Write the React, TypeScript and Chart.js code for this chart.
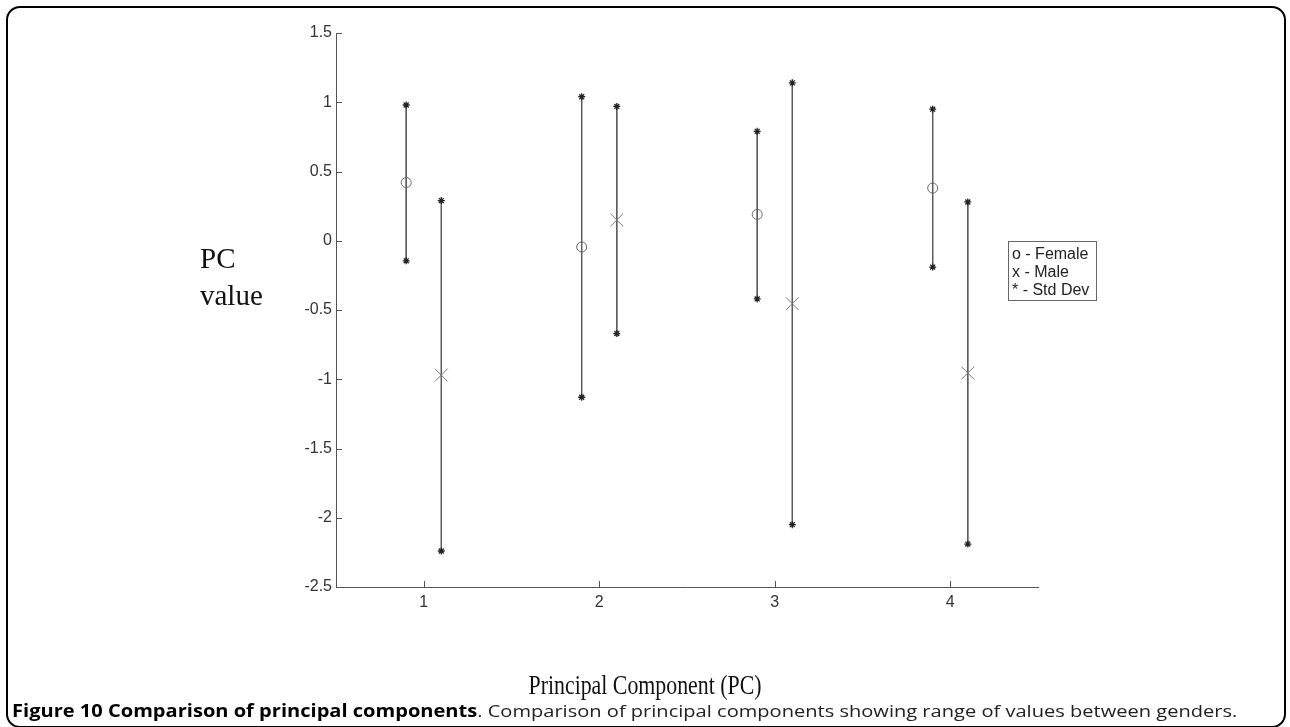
import React, { useEffect, useRef } from "react";
import { Chart, registerables } from "chart.js";

Chart.register(...registerables);

const components = [1, 2, 3, 4];
const xTickValues = [1, 2, 3, 4];
const yTickValues = [1.5, 1, 0.5, 0, -0.5, -1, -1.5, -2, -2.5];

const femaleMean = [0.42, -0.045, 0.19, 0.38];
const femaleUpper = [0.98, 1.04, 0.79, 0.95];
const femaleLower = [-0.145, -1.13, -0.42, -0.19];

const maleMean = [-0.97, 0.15, -0.455, -0.955];
const maleUpper = [0.29, 0.97, 1.14, 0.28];
const maleLower = [-2.24, -0.67, -2.05, -2.19];

const legendLines = ["o - Female", "x - Male", "* - Std Dev"];
const yTitleLines = ["PC", "value"];
const xTitle = "Principal Component (PC)";
const captionBold = "Figure 10 Comparison of principal components";
const captionRest = ". Comparison of principal components showing range of values between genders.";

const FEMALE_OFFSET = -0.1;
const MALE_OFFSET = 0.1;

const titlePlugin = {
  id: "titles",
  afterDraw(chart: any) {
    const ctx = chart.ctx;
    const x = chart.scales.x;
    const y = chart.scales.y;
    ctx.save();
    // inward ticks (MATLAB style)
    ctx.strokeStyle = "#555";
    ctx.lineWidth = 1;
    ctx.beginPath();
    xTickValues.forEach((v) => {
      const px = Math.round(x.getPixelForValue(v)) + 0.5;
      ctx.moveTo(px, y.bottom);
      ctx.lineTo(px, y.bottom - 6);
    });
    yTickValues.forEach((v) => {
      const py = Math.round(y.getPixelForValue(v)) + 0.5;
      ctx.moveTo(x.left, py);
      ctx.lineTo(x.left + 6, py);
    });
    ctx.stroke();
    // axis titles
    ctx.fillStyle = "#111";
    ctx.font = '29px "Liberation Serif", "Times New Roman", serif';
    ctx.textAlign = "left";
    ctx.textBaseline = "alphabetic";
    ctx.fillText(yTitleLines[0], 200, 268);
    ctx.fillText(yTitleLines[1], 200, 305);
    ctx.translate((x.left + x.right) / 2 - 42, 694);
    ctx.scale(0.78, 1);
    ctx.font = '28px "Liberation Serif", "Times New Roman", serif';
    ctx.textAlign = "center";
    ctx.fillText(xTitle, 0, 0);
    ctx.restore();
  },
};

export default function App() {
  const canvasRef = useRef<HTMLCanvasElement | null>(null);

  useEffect(() => {
    const canvas = canvasRef.current;
    if (!canvas) return;

    const barDatasets: any[] = [];
    components.forEach((c, i) => {
      barDatasets.push({
        type: "scatter",
        data: [
          { x: c + FEMALE_OFFSET, y: femaleUpper[i] },
          { x: c + FEMALE_OFFSET, y: femaleLower[i] },
        ],
        showLine: true,
        borderColor: "#5a5a5a",
        borderWidth: 1,
        pointStyle: "star",
        pointRadius: 3.5,
        pointBorderWidth: 1.3,
        pointBorderColor: "#222",
        pointBackgroundColor: "#222",
        order: 2,
      });
      barDatasets.push({
        type: "scatter",
        data: [
          { x: c + MALE_OFFSET, y: maleUpper[i] },
          { x: c + MALE_OFFSET, y: maleLower[i] },
        ],
        showLine: true,
        borderColor: "#5a5a5a",
        borderWidth: 1,
        pointStyle: "star",
        pointRadius: 3.5,
        pointBorderWidth: 1.3,
        pointBorderColor: "#222",
        pointBackgroundColor: "#222",
        order: 2,
      });
    });

    const chart = new Chart(canvas, {
      type: "scatter",
      data: {
        datasets: [
          {
            label: "Female",
            data: components.map((c, i) => ({ x: c + FEMALE_OFFSET, y: femaleMean[i] })),
            pointStyle: "circle",
            pointRadius: 5,
            pointBorderWidth: 1,
            pointBorderColor: "#666",
            pointBackgroundColor: "rgba(0,0,0,0)",
            order: 1,
          },
          {
            label: "Male",
            data: components.map((c, i) => ({ x: c + MALE_OFFSET, y: maleMean[i] })),
            pointStyle: "crossRot",
            pointRadius: 9,
            pointBorderWidth: 1,
            pointBorderColor: "#777",
            order: 1,
          },
          ...barDatasets,
        ],
      },
      options: {
        animation: false,
        responsive: false,
        devicePixelRatio: 1,
        layout: { padding: { top: 33, right: 252, left: 0, bottom: 0 } },
        plugins: { legend: { display: false }, tooltip: { enabled: false } },
        scales: {
          x: {
            type: "linear",
            min: 0.5,
            max: 4.5,
            afterBuildTicks: (scale: any) => {
              scale.ticks = xTickValues.map((v) => ({ value: v }));
            },
            afterFit: (scale: any) => {
              scale.height = 140;
            },
            grid: { display: false, drawTicks: false },
            border: { display: true, color: "#555", width: 1 },
            ticks: {
              padding: 6,
              color: "#333",
              font: { family: '"Liberation Sans", Arial, sans-serif', size: 16 },
              callback: (v: any) => String(v),
            },
          },
          y: {
            type: "linear",
            min: -2.5,
            max: 1.5,
            afterBuildTicks: (scale: any) => {
              scale.ticks = yTickValues.map((v) => ({ value: v }));
            },
            afterFit: (scale: any) => {
              scale.width = 336;
            },
            grid: { display: false, drawTicks: false },
            border: { display: true, color: "#555", width: 1 },
            ticks: {
              padding: 4,
              color: "#333",
              font: { family: '"Liberation Sans", Arial, sans-serif', size: 16 },
              callback: (v: any) => String(v),
            },
          },
        },
      },
      plugins: [titlePlugin],
    });

    return () => chart.destroy();
  }, []);

  return (
    <div style={{ position: "fixed", left: 0, top: 0, width: 1290, height: 727, background: "#fff", overflow: "hidden" }}>
      <div
        style={{
          position: "absolute",
          left: 6,
          top: 6,
          width: 1276,
          height: 718,
          border: "2px solid #000",
          borderRadius: 14,
        }}
      />
      <canvas ref={canvasRef} width={1290} height={727} style={{ position: "absolute", left: 0, top: 0 }} />
      <div
        style={{
          position: "absolute",
          left: 1008,
          top: 241,
          width: 89,
          height: 60,
          border: "1px solid #666",
          padding: "3px 0 0 3px",
          boxSizing: "border-box",
          font: '16px "Liberation Sans", Arial, sans-serif',
          lineHeight: "18px",
          color: "#222",
          whiteSpace: "nowrap",
        }}
      >
        {legendLines.map((t) => (
          <div key={t}>{t}</div>
        ))}
      </div>
      <div
        style={{
          position: "absolute",
          left: 12,
          top: 700,
          font: '17px "Open Sans", sans-serif',
          lineHeight: "22px",
          color: "#222",
          whiteSpace: "nowrap",
          transform: "scaleX(1.18)",
          transformOrigin: "left center",
        }}
      >
        <span style={{ fontWeight: 700, color: "#000" }}>{captionBold}</span>
        {captionRest}
      </div>
    </div>
  );
}
